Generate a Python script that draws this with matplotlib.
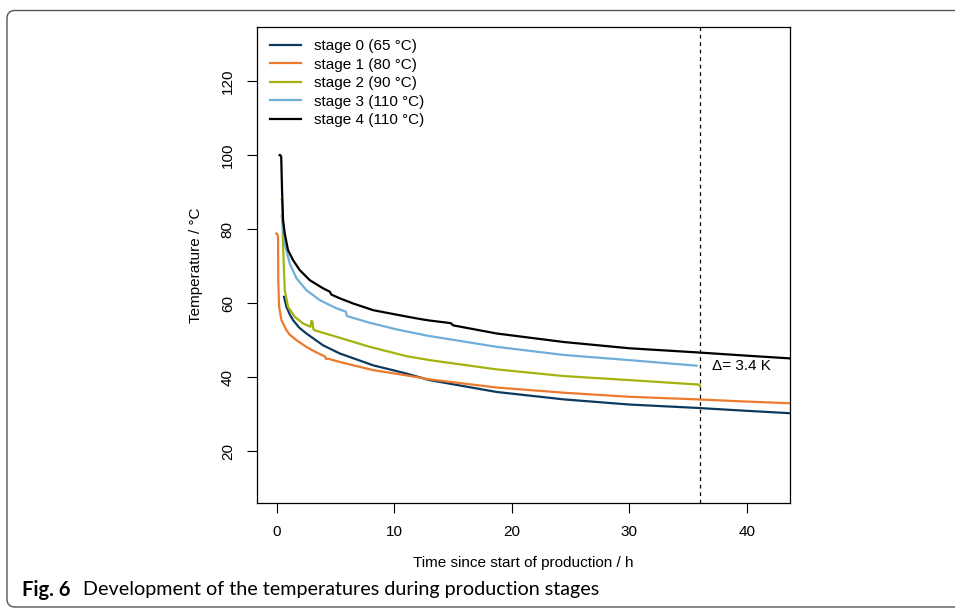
import matplotlib
matplotlib.use("Agg")
import matplotlib.pyplot as plt
from matplotlib.patches import FancyBboxPatch
from matplotlib.transforms import IdentityTransform

plt.rcParams["font.family"] = ["Liberation Sans", "DejaVu Sans"]

""" Temperature curves read from the figure (time in h, temperature in degC) """
t0 = [0.62, 0.82, 1.1, 1.39, 1.9, 2.52, 3.94, 5.36, 8.2, 11.0, 13.0, 18.7, 24.4,
      30.0, 35.7, 40.0, 44.0]
T0 = [61.7, 59.0, 57.0, 55.4, 53.4, 51.8, 48.6, 46.4, 43.2, 41.0, 39.2, 36.0, 34.0,
      32.6, 31.7, 30.9, 30.2]

t1 = [-0.03, 0.05, 0.11, 0.13, 0.2, 0.4, 0.82, 1.1, 1.67, 2.5, 3.3, 4.09, 4.2, 4.35,
      5.36, 8.2, 11.0, 13.0, 18.7, 24.4, 30.0, 35.7, 40.0, 44.0]
T1 = [78.8, 78.6, 77.9, 66.0, 59.0, 55.4, 52.7, 51.5, 50.0, 48.2, 46.8, 45.6, 44.9, 45.0,
      44.1, 41.9, 40.5, 39.4, 37.2, 35.8, 34.7, 34.0, 33.4, 32.9]

t2 = [0.42, 0.45, 0.54, 0.68, 0.96, 1.53, 2.24, 2.87, 2.95, 3.04, 3.1, 3.18, 5.08,
      7.9, 11.0, 13.0, 18.7, 24.4, 30.0, 35.9, 36.0]
T2 = [88.0, 87.8, 75.2, 63.5, 59.0, 56.3, 54.5, 53.6, 55.2, 55.0, 53.2, 52.7, 50.9,
      48.2, 45.7, 44.6, 42.1, 40.3, 39.2, 38.0, 37.6]

t3 = [0.42, 0.45, 0.68, 1.1, 1.68, 2.52, 3.66, 5.08, 5.87, 5.98, 7.9, 10.2, 12.2,
      13.0, 18.7, 24.4, 30.0, 35.7]
T3 = [83.5, 82.9, 76.1, 70.7, 66.7, 63.5, 60.8, 58.6, 57.7, 56.5, 54.7, 52.9, 51.6,
      51.1, 48.2, 46.0, 44.6, 43.1]

t4 = [0.25, 0.3, 0.38, 0.45, 0.54, 0.68, 0.96, 1.39, 1.96, 2.81, 3.94, 4.51, 4.65,
      5.36, 6.5, 8.2, 9.34, 11.0, 12.2, 13.0, 14.8, 15.0, 18.7, 24.4, 30.0, 35.7,
      40.0, 44.0]
T4 = [100.0, 100.0, 99.5, 90.5, 82.4, 78.8, 74.3, 71.6, 68.9, 66.2, 64.0, 63.1, 62.3,
      61.3, 59.9, 58.1, 57.4, 56.4, 55.7, 55.3, 54.6, 54.0, 51.8, 49.5, 47.8, 46.7,
      45.8, 45.0]

labels = ["stage 0 (65 °C)", "stage 1 (80 °C)", "stage 2 (90 °C)",
          "stage 3 (110 °C)", "stage 4 (110 °C)"]
colors = ["#0b3a60", "#ec7a2c", "#a3b20e", "#6faed9", "#000000"]

t_cut = 36
delta_text = "Δ= 3.4 K"

fig = plt.figure(figsize=(9.55, 6.09), dpi=100)
ax = fig.add_axes([257/955, 1-503/609, (790-257)/955, (503-27)/609])

for t, T, lab, c in zip([t0, t1, t2, t3, t4], [T0, T1, T2, T3, T4], labels, colors):
    ax.plot(t, T, color=c, lw=1.6, label=lab)

ax.axvline(t_cut, color="black", lw=0.9, ls=(0, (3, 3)))
ax.text(t_cut + 1.0, 43, delta_text, fontsize=11, va="center", ha="left")

ax.set_xlim(-1.68, 43.66)
ax.set_ylim(6, 134.6)
ax.set_xticks([0, 10, 20, 30, 40])
ax.set_yticks([20, 40, 60, 80, 100, 120])
ax.tick_params(axis="both", direction="out", length=7, width=0.8, labelsize=11, pad=9)
for lab in ax.get_yticklabels():
    lab.set_rotation(90)
    lab.set_va("center")
for s in ax.spines.values():
    s.set_linewidth(0.9)

ax.set_xlabel("Time since start of production / h", fontsize=11, labelpad=12)
ax.set_ylabel("Temperature / °C", fontsize=11, labelpad=13)

ax.legend(loc="upper left", bbox_to_anchor=(270/955, 1-39/609),
          bbox_transform=fig.transFigure, frameon=False, fontsize=11,
          handlelength=2.0, handletextpad=0.9, labelspacing=0.3,
          borderpad=0, borderaxespad=0)

""" outer frame and caption """
frame = FancyBboxPatch((7, 2), 1000, 596.5, boxstyle="round,pad=0,rounding_size=8",
                       transform=IdentityTransform(), fill=False,
                       edgecolor="#555555", lw=1.0, clip_on=False)
fig.patches.append(frame)

fig.text(22/955, 1-590/609, "Fig. 6", fontsize=14.5, fontweight="bold",
         family=["Lato", "DejaVu Sans"], va="center")
fig.text(83/955, 1-590/609, "Development of the temperatures during production stages",
         fontsize=14.2, family=["Lato", "DejaVu Sans"], va="center")

fig.savefig("out.png", dpi=100)
